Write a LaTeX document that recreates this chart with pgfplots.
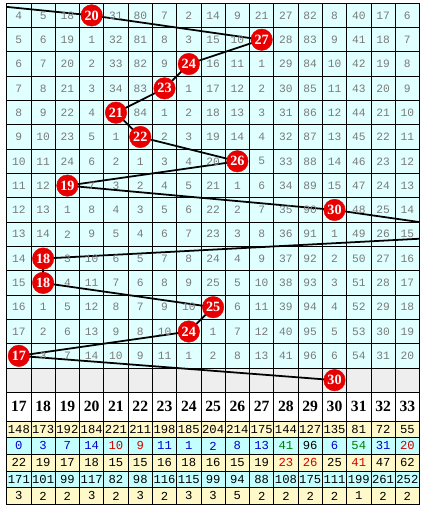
\documentclass[border=0pt]{standalone}
\usepackage{pgfplots}
\pgfplotsset{compat=1.18}
\usepackage{pgfplotstable}
\usepackage{fontspec}
\setmainfont{Liberation Serif}
\newfontfamily\monofont{Liberation Mono}
\definecolor{cellbg}{HTML}{E0FFFF}
\definecolor{greybg}{HTML}{EEEEEE}
\definecolor{yellbg}{HTML}{FFF8C8}
\definecolor{cyanbg}{HTML}{C4FFFF}
\definecolor{numgray}{HTML}{7A7A7A}
\definecolor{ballred}{HTML}{E80000}
\definecolor{tblue}{HTML}{0000CC}
\definecolor{tred}{HTML}{D00000}
\definecolor{tgreen}{HTML}{007F00}
\newcommand\gfont{\monofont\fontsize{11.5}{11.5}\selectfont}
\newcommand\tfont{\monofont\fontsize{12.5}{12.5}\selectfont}
\newcommand\hfont{\bfseries\fontsize{16}{16}\selectfont}
\newcommand\bfont{\bfseries\fontsize{14.5}{14.5}\selectfont}

% omission grid; cells under a ball are left empty
\pgfplotstableread{
r c17 c18 c19 c20 c21 c22 c23 c24 c25 c26 c27 c28 c29 c30 c31 c32 c33
1 4 5 18 {} 31 80 7 2 14 9 21 27 82 8 40 17 6
2 5 6 19 1 32 81 8 3 15 10 {} 28 83 9 41 18 7
3 6 7 20 2 33 82 9 {} 16 11 1 29 84 10 42 19 8
4 7 8 21 3 34 83 {} 1 17 12 2 30 85 11 43 20 9
5 8 9 22 4 {} 84 1 2 18 13 3 31 86 12 44 21 10
6 9 10 23 5 1 {} 2 3 19 14 4 32 87 13 45 22 11
7 10 11 24 6 2 1 3 4 20 {} 5 33 88 14 46 23 12
8 11 12 {} 7 3 2 4 5 21 1 6 34 89 15 47 24 13
9 12 13 1 8 4 3 5 6 22 2 7 35 90 {} 48 25 14
10 13 14 2 9 5 4 6 7 23 3 8 36 91 1 49 26 15
11 14 {} 3 10 6 5 7 8 24 4 9 37 92 2 50 27 16
12 15 {} 4 11 7 6 8 9 25 5 10 38 93 3 51 28 17
13 16 1 5 12 8 7 9 10 {} 6 11 39 94 4 52 29 18
14 17 2 6 13 9 8 10 {} 1 7 12 40 95 5 53 30 19
15 {} 3 7 14 10 9 11 1 2 8 13 41 96 6 54 31 20
}\gridtab

\pgfplotstableread{
s A D E
17 148 171 3
18 173 101 2
19 192 99 2
20 184 117 3
21 221 82 2
22 211 98 3
23 198 116 2
24 185 115 3
25 204 99 3
26 214 94 5
27 175 88 2
28 144 108 2
29 127 175 2
30 135 111 2
31 81 199 1
32 72 261 2
33 55 252 2
}\bottomtab

\begin{document}
\begin{tikzpicture}
\begin{axis}[
  set layers,
  scale only axis, width=421bp, height=511bp,
  xmin=16.5, xmax=33.5, ymin=0, ymax=511, y dir=reverse,
  xtick={16.5,17.5,...,33.5},
  ytick={0,24.8,49.6,74.4,99.2,124,148.8,173.6,198.4,223.2,248,272.8,297.6,322.4,347.2,372,396.8,426,443,460,477,494,511},
  xticklabels={}, yticklabels={},
  major tick length=0pt,
  grid=major, major grid style={black, line width=0.8bp},
  axis line style={black, line width=1bp},
  point meta=explicit symbolic,
  every node near coord/.append style={anchor=center},
]
% backgrounds
\addplot[on layer=axis background, fill=cellbg, draw=none] coordinates {(16.5,0) (33.5,0) (33.5,372) (16.5,372)} -- cycle;
\addplot[on layer=axis background, fill=greybg, draw=none] coordinates {(16.5,372) (33.5,372) (33.5,396.8) (16.5,396.8)} -- cycle;
\addplot[on layer=axis background, fill=white, draw=none] coordinates {(16.5,396.8) (33.5,396.8) (33.5,426) (16.5,426)} -- cycle;
\addplot[on layer=axis background, fill=yellbg, draw=none] coordinates {(16.5,426) (33.5,426) (33.5,443) (16.5,443)} -- cycle;
\addplot[on layer=axis background, fill=cyanbg, draw=none] coordinates {(16.5,443) (33.5,443) (33.5,460) (16.5,460)} -- cycle;
\addplot[on layer=axis background, fill=yellbg, draw=none] coordinates {(16.5,460) (33.5,460) (33.5,477) (16.5,477)} -- cycle;
\addplot[on layer=axis background, fill=cyanbg, draw=none] coordinates {(16.5,477) (33.5,477) (33.5,494) (16.5,494)} -- cycle;
\addplot[on layer=axis background, fill=yellbg, draw=none] coordinates {(16.5,494) (33.5,494) (33.5,511) (16.5,511)} -- cycle;

% grid numbers
\pgfplotsinvokeforeach{17,...,33}{
  \addplot[only marks, mark=none, nodes near coords,
    every node near coord/.append style={text=numgray, font=\gfont}]
    table[x expr=#1, y expr={(\thisrow{r}-0.5)*24.8}, meta=c#1] {\gridtab};
}

% connecting line
\addplot[black, line width=1.8bp, no marks] coordinates {
(10,-12.4) (20,12.4) (27,37.2) (24,62) (23,86.8) (21,111.6) (22,136.4) (26,161.2) (19,186) (30,210.8) (37,235.6) (18,260.4) (18,285.2) (25,310) (24,334.8) (17,359.6) (30,384.4)};

% balls
\addplot[only marks, mark=*, mark size=11pt, mark options={fill=ballred, draw=ballred},
  nodes near coords, every node near coord/.append style={text=white, font=\bfont}]
  coordinates {
(20,12.4)[20] (27,37.2)[27] (24,62)[24] (23,86.8)[23] (21,111.6)[21] (22,136.4)[22] (26,161.2)[26] (19,186)[19] (30,210.8)[30] (18,260.4)[18] (18,285.2)[18] (25,310)[25] (24,334.8)[24] (17,359.6)[17] (30,384.4)[30]};

% header
\addplot[only marks, mark=none, nodes near coords, every node near coord/.append style={font=\hfont}]
  table[x=s, y expr=411.5, meta=s] {\bottomtab};
% row A
\addplot[only marks, mark=none, nodes near coords, every node near coord/.append style={font=\tfont}]
  table[x=s, y expr=434.5, meta=A] {\bottomtab};
% row B
\addplot[only marks, mark=none, nodes near coords, every node near coord/.append style={font=\tfont, text=tblue}]
  coordinates {(17,451.5)[0] (18,451.5)[3] (19,451.5)[7] (20,451.5)[14] (23,451.5)[11] (24,451.5)[1] (25,451.5)[2] (26,451.5)[8] (27,451.5)[13] (30,451.5)[6] (32,451.5)[31]};
\addplot[only marks, mark=none, nodes near coords, every node near coord/.append style={font=\tfont, text=tred}]
  coordinates {(21,451.5)[10] (22,451.5)[9] (33,451.5)[20]};
\addplot[only marks, mark=none, nodes near coords, every node near coord/.append style={font=\tfont, text=tgreen}]
  coordinates {(28,451.5)[41] (31,451.5)[54]};
\addplot[only marks, mark=none, nodes near coords, every node near coord/.append style={font=\tfont}]
  coordinates {(29,451.5)[96]};
% row C
\addplot[only marks, mark=none, nodes near coords, every node near coord/.append style={font=\tfont}]
  coordinates {(17,468.5)[22] (18,468.5)[19] (19,468.5)[17] (20,468.5)[18] (21,468.5)[15] (22,468.5)[15] (23,468.5)[16] (24,468.5)[18] (25,468.5)[16] (26,468.5)[15] (27,468.5)[19] (30,468.5)[25] (32,468.5)[47] (33,468.5)[62]};
\addplot[only marks, mark=none, nodes near coords, every node near coord/.append style={font=\tfont, text=tred}]
  coordinates {(28,468.5)[23] (29,468.5)[26] (31,468.5)[41]};
% row D
\addplot[only marks, mark=none, nodes near coords, every node near coord/.append style={font=\tfont}]
  table[x=s, y expr=485.5, meta=D] {\bottomtab};
% row E
\addplot[only marks, mark=none, nodes near coords, every node near coord/.append style={font=\tfont}]
  table[x=s, y expr=502.5, meta=E] {\bottomtab};
\end{axis}
\end{tikzpicture}
\end{document}
